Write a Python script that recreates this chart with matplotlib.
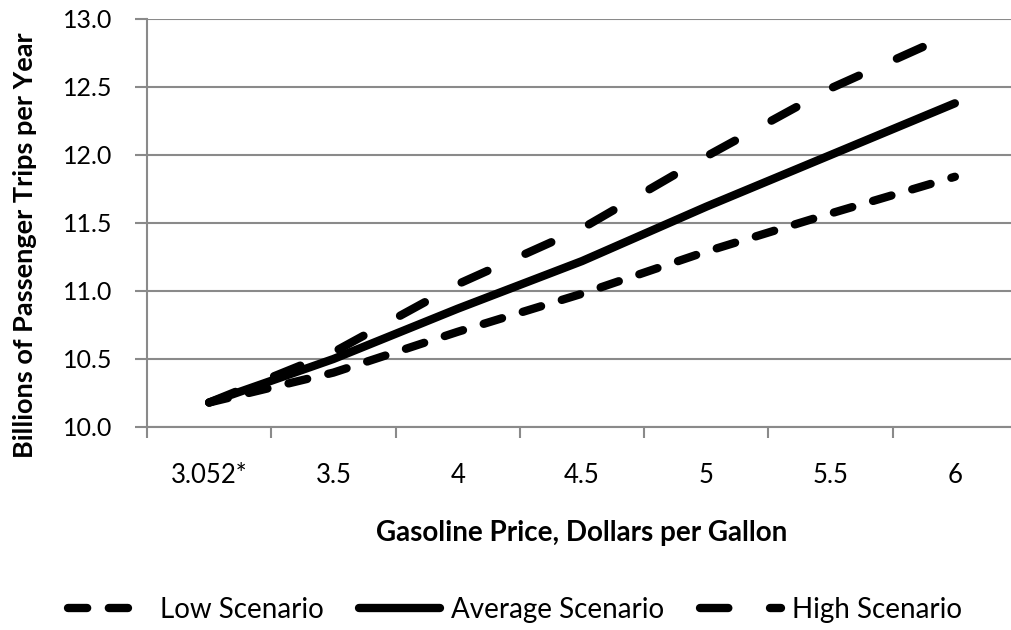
"""
transit ridership vs gasoline price scenarios
"""

import matplotlib

matplotlib.use("Agg")
import matplotlib.pyplot as plt

# %%
# data
prices = ["3.052*", "3.5", "4", "4.5", "5", "5.5", "6"]
low = [10.18, 10.40, 10.70, 10.98, 11.29, 11.57, 11.84]
average = [10.18, 10.50, 10.87, 11.22, 11.62, 12.00, 12.38]
high = [10.18, 10.55, 11.05, 11.46, 11.99, 12.49, 12.90]
y_ticks = [10.0, 10.5, 11.0, 11.5, 12.0, 12.5, 13.0]

# %%
plt.rcParams["font.family"] = ["Lato", "DejaVu Sans"]
GRID = "#8a8a8a"

fig = plt.figure(figsize=(10.12, 6.3), dpi=100)
ax = fig.add_axes([147 / 1012, 1 - 427 / 630, 870 / 1012, 408 / 630])

x = list(range(len(prices)))
lw = 6
ax.plot(x, low, color="black", lw=lw, dashes=(2.3, 2.6), dash_capstyle="round",
        label="Low Scenario", zorder=3)
ax.plot(x, average, color="black", lw=lw, solid_capstyle="round",
        label="Average Scenario", zorder=3)
ax.plot(x, high, color="black", lw=lw, dashes=(3.4, 5.0), dash_capstyle="round",
        label="High Scenario", zorder=3)

ax.set_xlim(-0.5, len(prices) - 0.5)
ax.set_ylim(10.0, 13.0)
ax.set_yticks(y_ticks)
ax.set_yticklabels([f"{v:.1f}" for v in y_ticks])
ax.yaxis.grid(True, color=GRID, lw=1.5)
ax.set_axisbelow(True)

ax.set_xticks(x)
ax.set_xticklabels(prices)
ax.set_xticks([i - 0.5 for i in range(len(prices) + 1)], minor=True)
ax.tick_params(axis="x", which="major", length=0, pad=26, labelsize=18.5)
ax.tick_params(axis="x", which="minor", length=8, width=1.5, color=GRID)
ax.tick_params(axis="y", length=9, width=1.5, color=GRID, pad=16, labelsize=18)

for side in ["top", "right"]:
    ax.spines[side].set_visible(False)
for side in ["left", "bottom"]:
    ax.spines[side].set_color(GRID)
    ax.spines[side].set_linewidth(1.5)

fig.text(582 / 1012, 1 - 533 / 630, "Gasoline Price, Dollars per Gallon",
         fontsize=20, fontweight="bold", ha="center", va="center")
fig.text(25 / 1012, 1 - 245 / 630, "Billions of Passenger Trips per Year",
         fontsize=19.5, fontweight="bold", ha="center", va="center", rotation=90)

fig.legend(loc="center", bbox_to_anchor=(515 / 1012, 1 - 610 / 630), ncol=3,
           frameon=False, fontsize=20, handlelength=2.9, handletextpad=0.4,
           columnspacing=1.3)

fig.savefig("out.png", dpi=100)
